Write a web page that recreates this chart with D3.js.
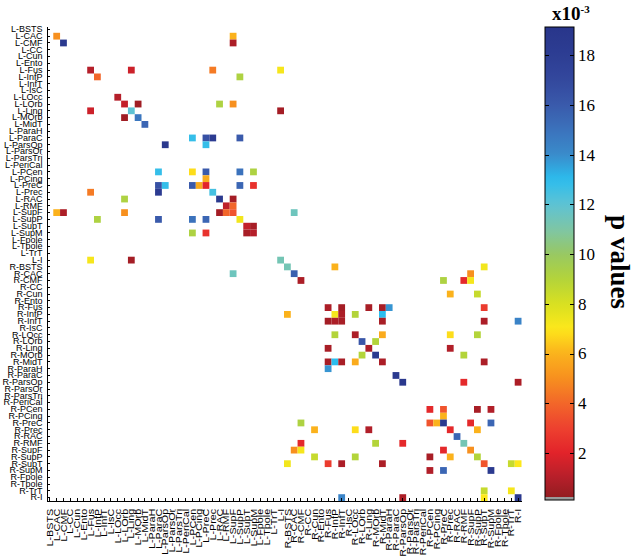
<!DOCTYPE html>
<html>
<head>
<meta charset="utf-8">
<script src="https://d3js.org/d3.v7.min.js"></script>
<style>
body { margin: 0; background: #fff; }
.axis text { font: 9px "Liberation Sans", Arial, sans-serif; fill: #000; }
.axis path, .axis line { stroke: #000; stroke-width: 1; shape-rendering: crispEdges; }
.cbar text { font: 17px "Liberation Serif", "Times New Roman", serif; fill: #000; }
.cbar path, .cbar line { stroke: #000; stroke-width: 1; shape-rendering: crispEdges; }
</style>
</head>
<body>
<svg id="chart" width="640" height="558"></svg>
<script>
// region names, one hemisphere
var regions = ["BSTS","CAC","CMF","CC","Cun","Ento","Fus","InfP","InfT","IsC","LOcc","LOrb","Ling","MOrb","MidT",
  "ParaH","ParaC","ParsOp","ParsOr","ParsTri","PeriCal","PCen","PCing","PreC","Prec","RAC","RMF","SupF","SupP",
  "SupT","SupM","Fpole","Tpole","TrT","I"];
var labels = regions.map(function(r) { return "L-" + r; })
  .concat(regions.map(function(r) { return "R-" + r; }));

// upper triangle of the matrix (x10^-3), mirrored below
var cells = [
  ["L-CAC","L-CAC",5], ["L-CAC","L-SupF",6],
  ["L-CMF","L-CMF",18.5], ["L-CMF","L-SupF",0.8],
  ["L-Fus","L-Fus",1.0], ["L-Fus","L-Ling",1.5], ["L-Fus","L-Prec",4.5], ["L-Fus","L-I",7.2],
  ["L-InfP","L-InfP",4], ["L-InfP","L-SupP",9.2],
  ["L-LOcc","L-LOcc",1],
  ["L-LOrb","L-LOrb",1.3], ["L-LOrb","L-MOrb",0.5], ["L-LOrb","L-RAC",9.2], ["L-LOrb","L-SupF",5],
  ["L-Ling","L-Ling",12], ["L-Ling","L-I",0.6],
  ["L-MOrb","L-MOrb",14.8],
  ["L-MidT","L-MidT",15.5],
  ["L-ParaC","L-PCen",12.8], ["L-ParaC","L-PreC",16.5], ["L-ParaC","L-Prec",18.3], ["L-ParaC","L-SupP",16],
  ["L-ParsOp","L-ParsOp",18.8], ["L-ParsOp","L-PreC",12.8],
  ["L-PCen","L-PCen",6.8], ["L-PCen","L-PreC",16], ["L-PCen","L-SupP",15], ["L-PCen","L-SupM",9.2],
  ["L-PCing","L-PreC",5.8],
  ["L-PreC","L-PreC",2], ["L-PreC","L-SupP",15.5], ["L-PreC","L-SupM",2.5],
  ["L-Prec","L-Prec",12.5],
  ["L-RAC","L-RAC",18.5], ["L-RAC","L-SupF",0.6],
  ["L-RMF","L-RMF",1.2], ["L-RMF","L-SupF",4],
  ["L-SupF","L-SupF",3.5], ["L-SupF","R-CAC",11.5],
  ["L-SupP","L-SupP",7.3],
  ["L-SupT","L-SupT",1.3], ["L-SupT","L-SupM",0.7],
  ["L-SupM","L-SupM",1.0],
  ["L-I","L-I",11.3],
  ["R-BSTS","R-BSTS",11.3], ["R-BSTS","R-InfP",6], ["R-BSTS","R-SupT",7.3],
  ["R-CAC","R-CAC",15.8], ["R-CAC","R-SupF",5],
  ["R-CMF","R-CMF",0.8], ["R-CMF","R-PreC",9.2], ["R-CMF","R-RMF",2.2], ["R-CMF","R-SupF",7.2],
  ["R-Cun","R-Prec",6], ["R-Cun","R-SupP",8.5],
  ["R-Fus","R-Fus",0.8], ["R-Fus","R-InfT",0.6], ["R-Fus","R-Ling",0.7], ["R-Fus","R-MidT",0.7],
  ["R-Fus","R-ParaH",13.8], ["R-Fus","R-SupT",2.8],
  ["R-InfP","R-InfP",7.2], ["R-InfP","R-InfT",0.8], ["R-InfP","R-LOcc",9], ["R-InfP","R-MidT",13],
  ["R-InfT","R-InfT",0.7], ["R-InfT","R-MidT",0.7], ["R-InfT","R-SupT",0.8], ["R-InfT","R-I",14.3],
  ["R-LOcc","R-LOcc",0.8], ["R-LOcc","R-MidT",5.8], ["R-LOcc","R-Prec",6.8], ["R-LOcc","R-SupP",9],
  ["R-LOrb","R-LOrb",16.2], ["R-LOrb","R-MOrb",9],
  ["R-Ling","R-Ling",0.8], ["R-Ling","R-Prec",0.9],
  ["R-MOrb","R-MOrb",18.5], ["R-MOrb","R-RMF",9],
  ["R-MidT","R-MidT",0.8], ["R-MidT","R-SupT",0.8],
  ["R-ParaC","R-ParaC",18.5],
  ["R-ParsOp","R-ParsOp",18.8], ["R-ParsOp","R-RMF",2.2], ["R-ParsOp","R-I",0.8],
  ["R-PCen","R-PCen",2.2], ["R-PCen","R-PreC",3.5], ["R-PCen","R-SupP",0.7], ["R-PCen","R-SupM",0.9],
  ["R-PCing","R-PreC",6],
  ["R-PreC","R-PreC",18.5], ["R-PreC","R-SupF",2.2], ["R-PreC","R-SupM",15.5],
  ["R-Prec","R-Prec",2.2], ["R-Prec","R-SupP",6],
  ["R-RAC","R-RAC",15.5],
  ["R-RMF","R-RMF",11.3],
  ["R-SupF","R-SupF",5],
  ["R-SupP","R-SupP",9],
  ["R-SupT","R-SupT",3.5], ["R-SupT","R-TrT",8.5], ["R-SupT","R-I",7],
  ["R-SupM","R-SupM",18.5],
  ["R-TrT","R-TrT",7.2],
  ["R-I","R-I",18.8]
];

var cbarTicks = [2, 4, 6, 8, 10, 12, 14, 16, 18];
var colorStops = [0, 1, 2, 3, 4, 5, 6, 7, 8, 9, 10, 11, 12, 13, 14, 15, 16, 17, 18, 19.2];
var colorList = ["#8a1b1d","#b51f2a","#e2232a","#ed412f","#f2662a","#f7901f","#fbb21c","#fde81b","#d8e021",
  "#b3d43a","#98c863","#7ec6a6","#5ec3d4","#2bbdee","#3a8bcb","#3b72bc","#3a5aab","#33489d","#2d3d93","#28358a"];

var svg = d3.select("#chart");
var plotL = 46.5, plotR = 521.5, plotT = 26, plotB = 501;

var x = d3.scaleBand().domain(labels).range([plotL, plotR]);
var y = d3.scaleBand().domain(labels).range([plotT, plotB]);
var color = d3.scaleLinear().domain(colorStops).range(colorList).clamp(true);

// full symmetric list
var all = [];
cells.forEach(function(d) {
  all.push({r: d[0], c: d[1], v: d[2]});
  if (d[0] !== d[1]) all.push({r: d[1], c: d[0], v: d[2]});
});

svg.append("g").selectAll("rect")
  .data(all)
  .enter().append("rect")
  .attr("x", function(d) { return x(d.c); })
  .attr("y", function(d) { return y(d.r); })
  .attr("width", x.bandwidth())
  .attr("height", y.bandwidth())
  .attr("fill", function(d) { return color(d.v); });

// Y axis, ticks pointing in
svg.append("g")
  .attr("class", "axis")
  .attr("transform", "translate(" + plotL + ",0)")
  .call(d3.axisLeft(y).tickSizeInner(-3).tickSizeOuter(0).tickPadding(4));

// X axis, labels turned (a bit stretched, like the original)
var xg = svg.append("g")
  .attr("class", "axis")
  .attr("transform", "translate(0," + plotB + ")")
  .call(d3.axisBottom(x).tickSizeInner(-3).tickSizeOuter(0));
xg.selectAll("text")
  .attr("transform", "rotate(-90) scale(1.2,1)")
  .attr("text-anchor", "end")
  .attr("x", -6.5)
  .attr("y", 0)
  .attr("dy", "0.35em");

// colour bar
var cbx = 545, cbw = 29, cbTop = 27, cbBot = 500;
var cy = d3.scaleLinear().domain([0, 19.13]).range([502.75, 27]);
var v0 = cy.invert(cbBot), v1 = cy.invert(cbTop);

var grad = svg.append("defs").append("linearGradient")
  .attr("id", "cbgrad")
  .attr("x1", 0).attr("y1", 1).attr("x2", 0).attr("y2", 0);
d3.range(0, 61).forEach(function(i) {
  var v = v0 + (v1 - v0) * i / 60;
  grad.append("stop").attr("offset", (i / 60 * 100) + "%").attr("stop-color", color(v));
});

var cb = svg.append("g").attr("class", "cbar");
cb.append("rect")
  .attr("x", cbx).attr("y", cbTop)
  .attr("width", cbw).attr("height", cbBot - cbTop)
  .attr("fill", "url(#cbgrad)");
cb.append("rect")
  .attr("x", cbx).attr("y", cbBot - 3)
  .attr("width", cbw).attr("height", 3)
  .attr("fill", "#9a9a9a");
cb.append("rect")
  .attr("x", cbx).attr("y", cbTop)
  .attr("width", cbw).attr("height", cbBot - cbTop)
  .attr("fill", "none").attr("stroke", "#000").attr("stroke-width", 1);

cb.append("g")
  .attr("transform", "translate(" + (cbx + cbw) + ",0)")
  .call(d3.axisRight(cy).tickValues(cbarTicks).tickSizeInner(-4).tickSizeOuter(0).tickPadding(4))
  .call(function(g) { g.select(".domain").remove(); });
cb.append("g")
  .attr("transform", "translate(" + cbx + ",0)")
  .call(d3.axisLeft(cy).tickValues(cbarTicks).tickSizeInner(-4).tickSizeOuter(0).tickFormat(""))
  .call(function(g) { g.select(".domain").remove(); });

var ex = svg.append("text")
  .attr("x", 552).attr("y", 20)
  .style("font", "bold 19px 'Liberation Serif', 'Times New Roman', serif")
  .text("x10");
ex.append("tspan")
  .attr("dy", -7)
  .style("font-size", "11px")
  .text("-3");

svg.append("text")
  .attr("transform", "translate(620,262) rotate(90)")
  .attr("text-anchor", "middle")
  .attr("dominant-baseline", "central")
  .style("font", "bold 27px 'Liberation Serif', 'Times New Roman', serif")
  .text("p values");
</script>
</body>
</html>
